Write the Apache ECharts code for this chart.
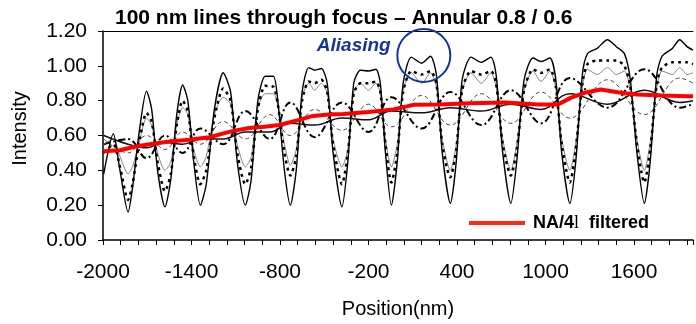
<!DOCTYPE html>
<html>
<head>
<meta charset="utf-8">
<script src="https://cdn.jsdelivr.net/npm/echarts@6/dist/echarts.min.js"></script>
<style>
  html, body { margin: 0; padding: 0; background: #fff; }
  #chart { width: 696px; height: 324px; }
</style>
</head>
<body>
<div id="chart"></div>
<script>
// positions (nm) for the detailed through-focus curves
var posFine = [-1995,-1930,-1885,-1830,-1800,-1750,-1705,-1670,-1630,-1580,
  -1540,-1500,-1460,-1425,-1385,-1340,-1300,-1245,-1185,-1135,
  -1090,-1035,-995,-950,-900,-845,-815,-770,-730,-690,
  -650,-605,-565,-520,-480,-440,-380,-340,-300,-255,
  -200,-150,-120,-85,-45,-5,35,90,160,220,
  260,300,355,395,435,495,565,630,665,710,
  765,805,855,915,970,1030,1070,1110,1165,1205,
  1250,1285,1350,1420,1480,1535,1575,1620,1670,1710,
  1755,1790,1860,1910,1960,2000];
// best focus (solid)
var inFocus = [0.38,0.61,0.40,0.16,0.30,0.65,0.855,0.75,0.40,0.19,
  0.35,0.72,0.89,0.80,0.45,0.20,0.32,0.75,0.96,0.85,
  0.45,0.20,0.35,0.80,0.94,0.94,0.80,0.40,0.20,0.40,
  0.85,0.99,0.975,0.985,0.90,0.50,0.19,0.45,0.90,0.975,
  0.97,0.98,0.90,0.50,0.20,0.45,0.90,1.05,1.015,1.055,
  0.95,0.50,0.21,0.45,0.92,1.05,1.02,1.05,0.95,0.50,
  0.21,0.45,0.92,1.045,1.025,1.045,0.92,0.50,0.21,0.45,
  0.95,1.07,1.10,1.15,1.11,1.07,0.92,0.50,0.21,0.45,
  0.95,1.055,1.10,1.15,1.11,1.09];
// small defocus (heavy dots)
var defocus1 = [0.50,0.55,0.42,0.23,0.32,0.58,0.73,0.68,0.45,0.28,
  0.38,0.66,0.80,0.74,0.48,0.32,0.40,0.70,0.87,0.80,
  0.50,0.32,0.42,0.75,0.885,0.88,0.78,0.50,0.37,0.48,
  0.80,0.91,0.90,0.92,0.85,0.55,0.32,0.50,0.84,0.90,
  0.90,0.91,0.85,0.55,0.33,0.50,0.85,0.97,0.95,0.97,
  0.90,0.55,0.36,0.52,0.86,0.97,0.95,0.97,0.90,0.55,
  0.37,0.52,0.86,0.98,0.96,0.98,0.88,0.55,0.33,0.52,
  0.90,1.01,1.03,1.03,1.03,1.00,0.88,0.55,0.33,0.52,
  0.90,0.99,1.02,1.02,1.02,1.01];
// small defocus (thin grey)
var defocus2 = [0.55,0.58,0.48,0.38,0.42,0.58,0.70,0.66,0.50,0.40,
  0.45,0.66,0.76,0.72,0.52,0.42,0.48,0.72,0.82,0.78,
  0.55,0.42,0.48,0.76,0.84,0.84,0.77,0.55,0.43,0.52,
  0.82,0.90,0.86,0.90,0.84,0.58,0.42,0.52,0.85,0.90,
  0.86,0.90,0.84,0.58,0.42,0.55,0.86,0.96,0.90,0.96,
  0.88,0.58,0.40,0.55,0.86,0.96,0.90,0.96,0.88,0.58,
  0.40,0.55,0.86,0.97,0.91,0.97,0.87,0.58,0.40,0.56,
  0.88,0.98,0.95,0.99,0.95,0.97,0.86,0.58,0.40,0.56,
  0.88,0.97,0.95,0.99,0.95,0.96];

// positions (nm) at the line / space centres for the low contrast curves
var posCoarse = [-1995,-1830,-1705,-1580,-1460,-1340,-1185,-1035,-870,-730,
  -565,-380,-200,-45,160,355,565,765,970,1165,1420,1670,1910,2000];
var defocus3 = [0.55,0.58,0.47,0.60,0.50,0.64,0.55,0.74,0.58,0.79,
  0.59,0.79,0.62,0.82,0.64,0.85,0.66,0.86,0.67,0.93,0.76,0.98,0.76,0.78];
var defocus4 = [0.58,0.50,0.60,0.52,0.62,0.55,0.68,0.58,0.72,0.60,
  0.75,0.63,0.78,0.65,0.83,0.66,0.84,0.67,0.85,0.70,0.92,0.72,0.93,0.90];
var defocus5 = [0.60,0.55,0.53,0.56,0.55,0.58,0.58,0.62,0.62,0.67,
  0.66,0.70,0.69,0.74,0.73,0.76,0.74,0.78,0.75,0.84,0.78,0.86,0.79,0.80];

// NA/4 lambda filtered
var posRed = [-1995,-1885,-1785,-1685,-1550,-1415,-1280,-1125,-1010,-905,
  -805,-670,-590,-470,-370,-200,-30,105,275,495,
  725,950,1085,1170,1265,1375,1510,1620,1790,1960,2000];
var filtered = [0.51,0.515,0.535,0.55,0.565,0.575,0.59,0.625,0.643,0.65,
  0.66,0.69,0.71,0.72,0.724,0.735,0.75,0.776,0.778,0.785,
  0.79,0.778,0.778,0.816,0.845,0.864,0.845,0.835,0.83,0.826,0.825];

// annotation anchors
var aliasingText = [-300, 1.115];
var aliasingCircle = [175, 1.06];

function pairs(xs, ys) {
  return xs.map(function (x, i) { return [x, ys[i]]; });
}

var font = 'Liberation Sans, Arial, sans-serif';
var blue = '#14349a';
var chart = echarts.init(document.getElementById('chart'));

var option = {
  animation: false,
  backgroundColor: '#fff',
  title: {
    text: '100 nm lines through focus \u2013 Annular 0.8 / 0.6',
    left: 110,
    top: 3,
    textStyle: { fontFamily: font, fontSize: 21, fontWeight: 'bold', color: '#000' }
  },
  grid: { left: 103, right: 0, top: 31, bottom: 84 },
  legend: {
    left: 464,
    top: 209,
    itemWidth: 56,
    itemHeight: 4,
    data: [{ name: 'NA/4l filtered', icon: 'rect', itemStyle: { color: '#ff2a10' } }],
    formatter: function () { return '{a|NA/4}{b|l}{a|  filtered}'; },
    textStyle: {
      padding: [0, 0, 0, 3],
      rich: {
        a: { fontFamily: font, fontWeight: 'bold', fontSize: 18, color: '#000' },
        b: { fontFamily: 'Liberation Serif, serif', fontSize: 18, color: '#000' }
      }
    }
  },
  xAxis: [{
    type: 'value',
    min: -2000,
    max: 2000,
    interval: 120,
    name: 'Position(nm)',
    nameLocation: 'middle',
    nameGap: 59,
    nameTextStyle: { fontFamily: font, fontSize: 20, color: '#000' },
    axisLine: { onZero: false, lineStyle: { color: '#000', width: 1.5 } },
    axisTick: { length: 5, lineStyle: { color: '#000' } },
    axisLabel: {
      margin: 22,
      fontFamily: font,
      fontSize: 21,
      color: '#000',
      formatter: function (v) {
        return Math.round(v + 2000) % 600 === 0 && v < 2000 ? String(Math.round(v)) : '';
      }
    },
    splitLine: { show: false }
  }, {
    type: 'value',
    position: 'top',
    min: -2000,
    max: 2000,
    axisLine: { show: true, onZero: false, lineStyle: { color: '#000', width: 1 } },
    axisTick: { show: false },
    axisLabel: { show: false },
    splitLine: { show: false }
  }],
  yAxis: {
    type: 'value',
    min: 0,
    max: 1.2,
    interval: 0.2,
    name: 'Intensity',
    nameLocation: 'middle',
    nameGap: 73,
    nameTextStyle: { fontFamily: font, fontSize: 20, color: '#000', padding: [0, 0, 0, 14] },
    axisLine: { show: true, onZero: false, lineStyle: { color: '#000', width: 1.5 } },
    axisTick: { show: true, length: 5, lineStyle: { color: '#000' } },
    axisLabel: {
      margin: 16,
      fontFamily: font,
      fontSize: 21,
      color: '#000',
      formatter: function (v) { return v.toFixed(2); }
    },
    splitLine: { show: false }
  },
  series: [
    {
      name: 'defocus 5', type: 'line', data: pairs(posCoarse, defocus5),
      symbol: 'none', smooth: 0.4,
      lineStyle: { color: '#111', width: 1.5 }
    },
    {
      name: 'defocus 4', type: 'line', data: pairs(posCoarse, defocus4),
      symbol: 'none', smooth: 0.4,
      lineStyle: { color: '#444', width: 1, type: [4, 3] }
    },
    {
      name: 'defocus 3', type: 'line', data: pairs(posCoarse, defocus3),
      symbol: 'none', smooth: 0.4,
      lineStyle: { color: '#000', width: 2, type: [7, 3, 2, 3] }
    },
    {
      name: 'defocus 2', type: 'line', data: pairs(posFine, defocus2),
      symbol: 'none', smooth: 0.25,
      lineStyle: { color: '#777', width: 0.9 }
    },
    {
      name: 'defocus 1', type: 'line', data: pairs(posFine, defocus1),
      symbol: 'none', smooth: 0.25,
      lineStyle: { color: '#000', width: 2.5, type: [3, 4] }
    },
    {
      name: 'focus', type: 'line', data: pairs(posFine, inFocus),
      symbol: 'none', smooth: 0.25,
      lineStyle: { color: '#000', width: 1.4 }
    },
    {
      name: 'NA/4l filtered', type: 'line', data: pairs(posRed, filtered),
      symbol: 'none', z: 5,
      lineStyle: { color: '#ff0000', width: 4 }
    },
    {
      name: 'aliasing', type: 'scatter', z: 6, clip: false,
      data: [aliasingCircle],
      symbol: 'circle', symbolSize: 53,
      itemStyle: { color: 'rgba(0,0,0,0)', borderColor: blue, borderWidth: 2, opacity: 1 },
      silent: true
    },
    {
      name: 'aliasing label', type: 'scatter', z: 6,
      data: [aliasingText],
      symbolSize: 1,
      itemStyle: { color: 'rgba(0,0,0,0)', opacity: 1 },
      label: {
        show: true, position: 'inside', formatter: 'Aliasing',
        fontFamily: font, fontSize: 19, fontWeight: 'bold', fontStyle: 'italic', color: blue
      },
      silent: true
    }
  ]
};

chart.setOption(option);
</script>
</body>
</html>
